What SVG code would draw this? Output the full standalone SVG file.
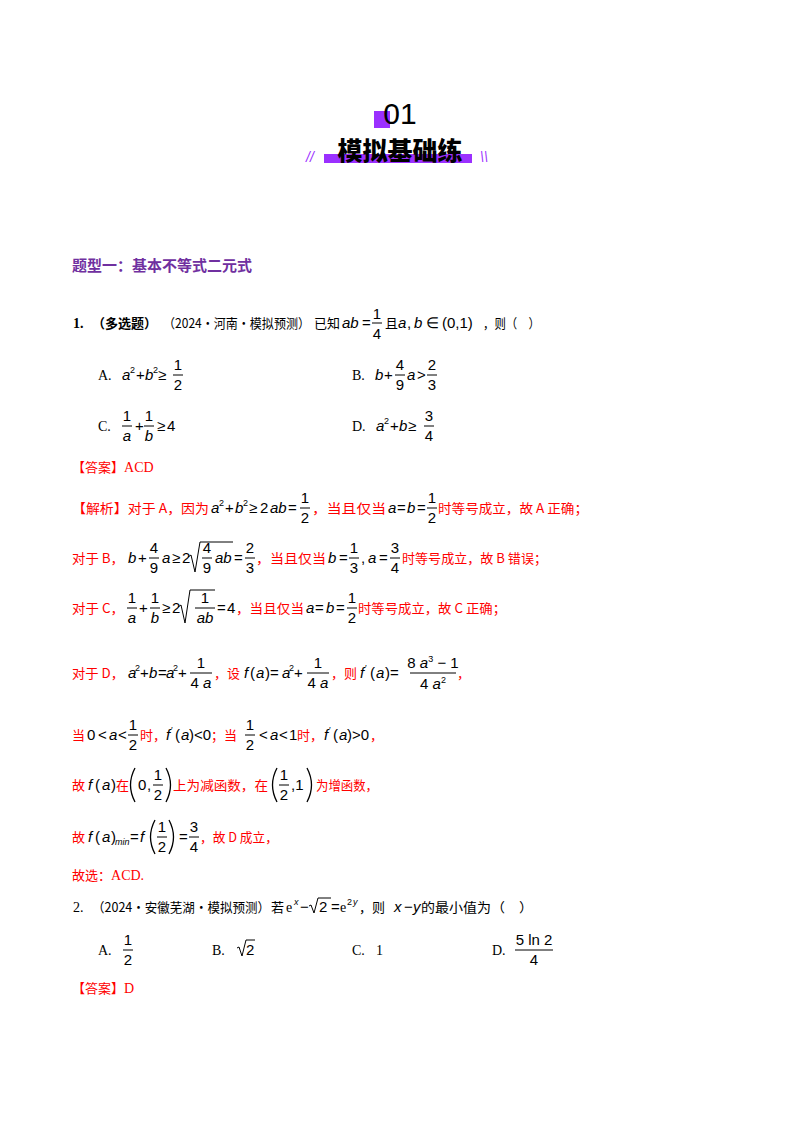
<svg xmlns="http://www.w3.org/2000/svg" width="800" height="1132" viewBox="0 0 800 1132">
<style>
text{font-family:"Liberation Serif","Noto Sans CJK SC",serif;font-size:14px;fill:#000}
.k{font-family:"Noto Sans CJK SC",sans-serif;font-size:13px}
.r{fill:#ff0000}
.m{font-family:"Liberation Sans",sans-serif;font-size:15px}
.i{font-family:"Liberation Sans",sans-serif;font-size:15px;font-style:italic}
.s{font-family:"Liberation Sans",sans-serif;font-size:9px}
.c{text-anchor:middle}
line{stroke:#000;stroke-width:1}
.rt{fill:none;stroke:#000;stroke-width:1}
.pp{fill:none;stroke:#000;stroke-width:1.3}
</style>
<rect width="800" height="1132" fill="#fff"/>
<g id="header">
<rect x="374" y="111" width="16" height="17" fill="#9b30ff"/>
<text x="400" y="124" class="c" style="font-family:'Liberation Sans',sans-serif;font-size:30px">01</text>
<rect x="324" y="154" width="148" height="9" fill="#9b30ff"/>
<text x="400" y="160" class="c" style="font-family:'Noto Sans CJK SC',sans-serif;font-size:25px;font-weight:900">模拟基础练</text>
<text x="306" y="162" style="font-family:'Liberation Sans',sans-serif;font-size:14px;fill:#9b30ff;font-style:italic">//</text>
<text x="480" y="162" style="font-family:'Liberation Sans',sans-serif;font-size:14px;fill:#9b30ff;font-style:italic">\\</text>
</g>
<text x="72" y="271" style="font-family:'Noto Sans CJK SC',sans-serif;font-size:15px;font-weight:bold;fill:#7030a0">题型一：基本不等式二元式</text>

<g id="q1">
<text x="73" y="328" font-weight="bold">1.</text>
<text x="92" y="328" class="k" font-weight="bold" textLength="65" lengthAdjust="spacingAndGlyphs">（多选题）</text>
<text x="163" y="328" class="k" textLength="147" lengthAdjust="spacingAndGlyphs">（2024·河南·模拟预测）</text>
<text x="314" y="328" class="k" textLength="26" lengthAdjust="spacingAndGlyphs">已知</text>
<text x="342" y="328" class="i">ab</text><text x="362" y="328" class="m">=</text>
<text x="377" y="319" class="c m">1</text><line x1="372" y1="323" x2="382" y2="323"/><text x="377" y="339" class="c m">4</text>
<text x="385" y="328" class="k">且</text>
<text x="398" y="328" class="i">a</text><text x="407" y="328" class="m">,</text><text x="414" y="328" class="i">b</text><text x="426" y="328" class="m">∈</text><text x="442" y="328" class="m">(0,1)</text>
<text x="483" y="328" class="k" textLength="57" lengthAdjust="spacingAndGlyphs">，则（　）</text>

<text x="98" y="380">A.</text>
<text x="122" y="380" class="i">a</text><text x="130" y="373" class="s">2</text><text x="136" y="380" class="m">+</text><text x="145" y="380" class="i">b</text><text x="153" y="373" class="s">2</text><text x="158" y="380" class="m">≥</text>
<text x="178" y="370" class="c m">1</text><line x1="173" y1="375" x2="183" y2="375"/><text x="178" y="390" class="c m">2</text>
<text x="352" y="380">B.</text>
<text x="375" y="380" class="i">b</text><text x="384" y="380" class="m">+</text>
<text x="400" y="370" class="c m">4</text><line x1="395" y1="375" x2="405" y2="375"/><text x="400" y="390" class="c m">9</text>
<text x="407" y="380" class="i">a</text><text x="417" y="380" class="m">&gt;</text>
<text x="432" y="370" class="c m">2</text><line x1="427" y1="375" x2="437" y2="375"/><text x="432" y="390" class="c m">3</text>

<text x="98" y="431">C.</text>
<text x="127" y="421" class="c m">1</text><line x1="122" y1="426" x2="132" y2="426"/><text x="127" y="441" class="c i">a</text>
<text x="135" y="431" class="m">+</text>
<text x="149" y="421" class="c m">1</text><line x1="144" y1="426" x2="154" y2="426"/><text x="149" y="441" class="c i">b</text>
<text x="157" y="431" class="m">≥</text><text x="167" y="431" class="m">4</text>
<text x="352" y="431">D.</text>
<text x="376" y="431" class="i">a</text><text x="384" y="424" class="s">2</text><text x="390" y="431" class="m">+</text><text x="399" y="431" class="i">b</text><text x="408" y="431" class="m">≥</text>
<text x="429" y="421" class="c m">3</text><line x1="424" y1="426" x2="434" y2="426"/><text x="429" y="441" class="c m">4</text>

<text x="72" y="472" class="r"><tspan class="k">【答案】</tspan>ACD</text>
</g>

<g id="analysis">
<text x="72" y="513" class="k r" textLength="137" lengthAdjust="spacingAndGlyphs">【解析】对于 A，因为</text>
<text x="211" y="513" class="i">a</text><text x="219" y="506" class="s">2</text><text x="225" y="513" class="m">+</text><text x="235" y="513" class="i">b</text><text x="243" y="506" class="s">2</text><text x="249" y="513" class="m">≥</text><text x="260" y="513" class="m">2</text><text x="270" y="513" class="i">ab</text><text x="288" y="513" class="m">=</text>
<text x="305" y="503" class="c m">1</text><line x1="300" y1="508" x2="310" y2="508"/><text x="305" y="523" class="c m">2</text>
<text x="312" y="513" class="k r" textLength="74" lengthAdjust="spacingAndGlyphs">，当且仅当</text>
<text x="388" y="513" class="i">a</text><text x="397" y="513" class="m">=</text><text x="407" y="513" class="i">b</text><text x="417" y="513" class="m">=</text>
<text x="432" y="503" class="c m">1</text><line x1="427" y1="508" x2="437" y2="508"/><text x="432" y="523" class="c m">2</text>
<text x="438" y="513" class="k r" textLength="150" lengthAdjust="spacingAndGlyphs">时等号成立，故 A 正确；</text>

<text x="72" y="563" class="k r" textLength="52" lengthAdjust="spacingAndGlyphs">对于 B，</text>
<text x="128" y="563" class="i">b</text><text x="138" y="563" class="m">+</text>
<text x="154" y="553" class="c m">4</text><line x1="149" y1="558" x2="159" y2="558"/><text x="154" y="573" class="c m">9</text>
<text x="162" y="563" class="i">a</text><text x="172" y="563" class="m">≥</text><text x="182" y="563" class="m">2</text>
<path d="M188,557 L191,555 L195,572 L200,542 L233,542" class="rt"/>
<text x="207" y="553" class="c m">4</text><line x1="202" y1="558" x2="212" y2="558"/><text x="207" y="573" class="c m">9</text>
<text x="215" y="563" class="i">ab</text><text x="234" y="563" class="m">=</text>
<text x="250" y="553" class="c m">2</text><line x1="245" y1="558" x2="255" y2="558"/><text x="250" y="573" class="c m">3</text>
<text x="256" y="563" class="k r" textLength="70" lengthAdjust="spacingAndGlyphs">，当且仅当</text>
<text x="328" y="563" class="i">b</text><text x="339" y="563" class="m">=</text>
<text x="354" y="553" class="c m">1</text><line x1="349" y1="558" x2="359" y2="558"/><text x="354" y="573" class="c m">3</text>
<text x="361" y="563" class="m">,</text><text x="368" y="563" class="i">a</text><text x="379" y="563" class="m">=</text>
<text x="395" y="553" class="c m">3</text><line x1="390" y1="558" x2="400" y2="558"/><text x="395" y="573" class="c m">4</text>
<text x="402" y="563" class="k r" textLength="145" lengthAdjust="spacingAndGlyphs">时等号成立，故 B 错误；</text>

<text x="72" y="613" class="k r" textLength="52" lengthAdjust="spacingAndGlyphs">对于 C，</text>
<text x="132" y="603" class="c m">1</text><line x1="127" y1="608" x2="137" y2="608"/><text x="132" y="623" class="c i">a</text>
<text x="139" y="613" class="m">+</text>
<text x="155" y="603" class="c m">1</text><line x1="150" y1="608" x2="160" y2="608"/><text x="155" y="623" class="c i">b</text>
<text x="162" y="613" class="m">≥</text><text x="172" y="613" class="m">2</text>
<path d="M178,607 L181,605 L185,623 L190,590 L215,590" class="rt"/>
<text x="205" y="603" class="c m">1</text><line x1="195" y1="608" x2="215" y2="608"/><text x="205" y="623" class="c i">ab</text>
<text x="217" y="613" class="m">=</text><text x="227" y="613" class="m">4</text>
<text x="236" y="613" class="k r" textLength="68" lengthAdjust="spacingAndGlyphs">，当且仅当</text>
<text x="306" y="613" class="i">a</text><text x="315" y="613" class="m">=</text><text x="326" y="613" class="i">b</text><text x="336" y="613" class="m">=</text>
<text x="352" y="603" class="c m">1</text><line x1="347" y1="608" x2="357" y2="608"/><text x="352" y="623" class="c m">2</text>
<text x="358" y="613" class="k r" textLength="148" lengthAdjust="spacingAndGlyphs">时等号成立，故 C 正确；</text>

<text x="72" y="678" class="k r" textLength="52" lengthAdjust="spacingAndGlyphs">对于 D，</text>
<text x="128" y="678" class="i">a</text><text x="135" y="671" class="s">2</text><text x="140" y="678" class="m">+</text><text x="149" y="678" class="i">b</text><text x="158" y="678" class="m">=</text><text x="166" y="678" class="i">a</text><text x="173" y="671" class="s">2</text><text x="178" y="678" class="m">+</text>
<text x="201" y="668" class="c m">1</text><line x1="190" y1="673" x2="212" y2="673"/><text x="201" y="688" class="c"><tspan class="m">4 </tspan><tspan class="i">a</tspan></text>
<text x="214" y="678" class="k r">，设</text>
<text x="244" y="678" class="i">f</text><text x="250" y="678" class="m">(</text><text x="256" y="678" class="i">a</text><text x="265" y="678" class="m">)=</text><text x="282" y="678" class="i">a</text><text x="289" y="671" class="s">2</text><text x="294" y="678" class="m">+</text>
<text x="318" y="668" class="c m">1</text><line x1="307" y1="673" x2="329" y2="673"/><text x="318" y="688" class="c"><tspan class="m">4 </tspan><tspan class="i">a</tspan></text>
<text x="331" y="678" class="k r">，则</text>
<text x="360" y="678" class="i">f</text><text x="365" y="671" class="s">′</text><text x="370" y="678" class="m">(</text><text x="376" y="678" class="i">a</text><text x="385" y="678" class="m">)=</text>
<text x="433" y="668" class="c"><tspan class="m">8 </tspan><tspan class="i">a</tspan><tspan class="s" dy="-6">3</tspan><tspan class="m" dy="6"> − 1</tspan></text>
<line x1="410" y1="673" x2="456" y2="673"/>
<text x="433" y="689" class="c"><tspan class="m">4 </tspan><tspan class="i">a</tspan><tspan class="s" dy="-6">2</tspan></text>
<text x="457" y="678" class="k r">，</text>

<text x="72" y="740" class="k r">当</text>
<text x="87" y="740" class="m">0</text><text x="98" y="740" class="m">&lt;</text><text x="109" y="740" class="i">a</text><text x="118" y="740" class="m">&lt;</text>
<text x="133" y="730" class="c m">1</text><line x1="128" y1="735" x2="138" y2="735"/><text x="133" y="750" class="c m">2</text>
<text x="140" y="740" class="k r">时，</text>
<text x="166" y="740" class="i">f</text><text x="171" y="733" class="s">′</text><text x="175" y="740" class="m">(</text><text x="181" y="740" class="i">a</text><text x="189" y="740" class="m">)&lt;0</text>
<text x="211" y="740" class="k r">；当</text>
<text x="250" y="730" class="c m">1</text><line x1="245" y1="735" x2="255" y2="735"/><text x="250" y="750" class="c m">2</text>
<text x="259" y="740" class="m">&lt;</text><text x="270" y="740" class="i">a</text><text x="279" y="740" class="m">&lt;</text><text x="289" y="740" class="m">1</text>
<text x="297" y="740" class="k r">时，</text>
<text x="324" y="740" class="i">f</text><text x="329" y="733" class="s">′</text><text x="333" y="740" class="m">(</text><text x="339" y="740" class="i">a</text><text x="347" y="740" class="m">)&gt;0</text>
<text x="370" y="740" class="k r">，</text>

<text x="72" y="790" class="k r">故</text>
<text x="88" y="790" class="i">f</text><text x="95" y="790" class="m">(</text><text x="102" y="790" class="i">a</text><text x="111" y="790" class="m">)</text>
<text x="116" y="790" class="k r">在</text>
<path d="M135,768 Q126,785 135,802" class="pp"/>
<text x="138" y="790" class="m">0</text><text x="147" y="790" class="m">,</text>
<text x="158" y="780" class="c m">1</text><line x1="153" y1="785" x2="163" y2="785"/><text x="158" y="800" class="c m">2</text>
<path d="M166,768 Q175,785 166,802" class="pp"/>
<text x="173" y="790" class="k r" textLength="95" lengthAdjust="spacingAndGlyphs">上为减函数，在</text>
<path d="M277,768 Q268,785 277,802" class="pp"/>
<text x="284" y="780" class="c m">1</text><line x1="279" y1="785" x2="289" y2="785"/><text x="284" y="800" class="c m">2</text>
<text x="291" y="790" class="m">,1</text>
<path d="M307,768 Q316,785 307,802" class="pp"/>
<text x="316" y="790" class="k r" textLength="62" lengthAdjust="spacingAndGlyphs">为增函数，</text>

<text x="72" y="842" class="k r">故</text>
<text x="88" y="842" class="i">f</text><text x="95" y="842" class="m">(</text><text x="102" y="842" class="i">a</text><text x="111" y="842" class="m">)</text>
<text x="115" y="845" class="i" style="font-size:9px">min</text>
<text x="130" y="842" class="m">=</text><text x="140" y="842" class="i">f</text>
<path d="M155,820 Q146,837 155,854" class="pp"/>
<text x="162" y="832" class="c m">1</text><line x1="157" y1="837" x2="167" y2="837"/><text x="162" y="852" class="c m">2</text>
<path d="M169,820 Q178,837 169,854" class="pp"/>
<text x="179" y="842" class="m">=</text>
<text x="194" y="832" class="c m">3</text><line x1="189" y1="837" x2="199" y2="837"/><text x="194" y="852" class="c m">4</text>
<text x="200" y="842" class="k r" textLength="78" lengthAdjust="spacingAndGlyphs">，故 D 成立，</text>

<text x="72" y="880" class="r"><tspan class="k">故选：</tspan>ACD.</text>
</g>

<g id="q2">
<text x="73" y="912">2.</text>
<text x="92" y="912" class="k" textLength="178" lengthAdjust="spacingAndGlyphs">（2024·安徽芜湖·模拟预测）</text>
<text x="271" y="912" class="k">若</text>
<text x="286" y="912">e</text><text x="294" y="905" class="s" font-style="italic">x</text>
<text x="300" y="912" class="m">−</text>
<path d="M309,906 L311,905 L314,913 L318,898 L331,898" class="rt"/>
<text x="319" y="912" class="m">2</text><text x="331" y="912" class="m">=</text>
<text x="340" y="912">e</text><text x="347" y="905" class="s">2</text><text x="353" y="905" class="s" font-style="italic">y</text>
<text x="359" y="912" class="k">，则</text>
<text x="394" y="912" class="i">x</text><text x="404" y="912" class="m">−</text><text x="413" y="912" class="i">y</text>
<text x="421" y="912" class="k" textLength="112" lengthAdjust="spacingAndGlyphs">的最小值为（　）</text>

<text x="98" y="955">A.</text>
<text x="128" y="945" class="c m">1</text><line x1="123" y1="950" x2="133" y2="950"/><text x="128" y="965" class="c m">2</text>
<text x="212" y="955">B.</text>
<path d="M237,948 L239,947 L242,956 L246,940 L255,940" class="rt"/>
<text x="246" y="955" class="m">2</text>
<text x="352" y="955">C.</text><text x="376" y="955">1</text>
<text x="492" y="955">D.</text>
<text x="534" y="945" class="c m">5 ln 2</text><line x1="515" y1="950" x2="553" y2="950"/><text x="534" y="965" class="c m">4</text>

<text x="72" y="993" class="r"><tspan class="k">【答案】</tspan>D</text>
</g>
</svg>
